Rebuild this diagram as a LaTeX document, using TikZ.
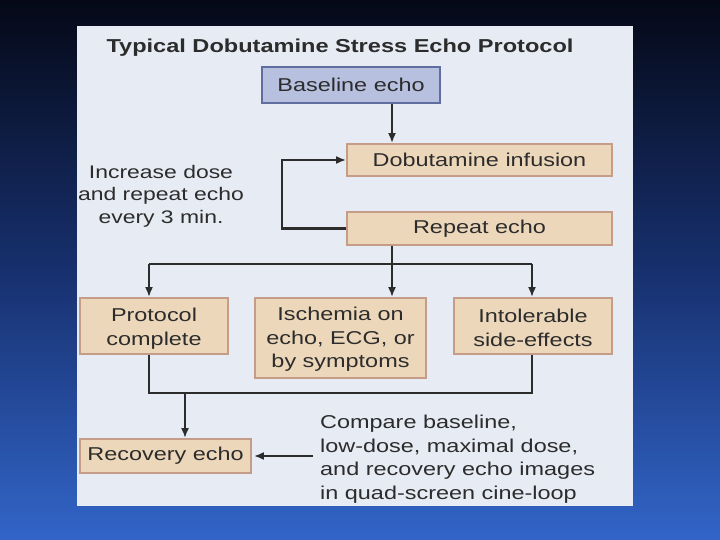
\documentclass[tikz,border=0pt]{standalone}
\usepackage{fontspec}
\setmainfont{Liberation Sans}[FakeStretch=1.26]
\usetikzlibrary{arrows.meta}
\definecolor{bgtop}{HTML}{050917}
\definecolor{bgmid}{HTML}{17306E}
\definecolor{bgbot}{HTML}{3265C8}
\definecolor{panel}{HTML}{E7EBF3}
\definecolor{tanfill}{HTML}{EDD7BA}
\definecolor{tanline}{HTML}{C59C88}
\definecolor{bluefill}{HTML}{B7C0DE}
\definecolor{blueline}{HTML}{5F6E9E}
\definecolor{ink}{HTML}{2C2C2C}
\tikzset{
  txt/.style={font=\fontsize{18.6}{23.5}\selectfont, text=ink, align=center, inner sep=0pt},
  tanbox/.style={txt, draw=tanline, fill=tanfill, line width=1.8pt},
  bluebox/.style={txt, draw=blueline, fill=bluefill, line width=1.8pt},
  conn/.style={draw=ink, line width=2.1pt},
  arr/.style={conn, -{Latex[length=10pt,width=8pt]}}
}
\begin{document}
\begin{tikzpicture}[x=1pt,y=-1pt]
  \useasboundingbox (0,0) rectangle (720,540);
  \shade[top color=bgtop, bottom color=bgbot, middle color=bgmid] (0,0) rectangle (720,540);
  \fill[panel] (77,26) rectangle (633,506);

  \node[txt, font=\fontsize{18.7}{23}\selectfont\bfseries, anchor=base] (title) at (340,53) {Typical Dobutamine Stress Echo Protocol};

  \node[bluebox, minimum width=178pt, minimum height=36pt] (base) at (351,85) {Baseline echo};
  \node[tanbox, minimum width=265pt, minimum height=32pt] (dob) at (479.5,160) {Dobutamine infusion};
  \node[tanbox, minimum width=265pt, minimum height=33pt] (rep) at (479.5,228.5) {Repeat echo};
  \node[tanbox, minimum width=148pt, minimum height=56pt] (prot) at (154,326) {};
  \node[tanbox, minimum width=171pt, minimum height=80pt] (isch) at (340.5,338) {};
  \node[tanbox, minimum width=158pt, minimum height=56pt] (intol) at (533,326) {};
  \node[tanbox, minimum width=171pt, minimum height=34pt] (rec) at (165.5,456) {Recovery echo};

  \node[txt] (protT) at ([yshift=-2.5pt]prot.center) {Protocol\\complete};
  \node[txt] (ischT) at ([yshift=-1.5pt]isch.center) {Ischemia on\\echo, ECG, or\\by symptoms};
  \node[txt] (intolT) at ([yshift=-2pt]intol.center) {Intolerable\\side-effects};

  \node[txt, font=\fontsize{18.2}{22.7}\selectfont] (inc) at (161,196) {Increase dose\\and repeat echo\\every 3 min.};
  \node[txt, align=left, anchor=west] (cmp) at (320,459) {Compare baseline,\\low-dose, maximal dose,\\and recovery echo images\\in quad-screen cine-loop};

  \coordinate (cx) at (392,0);
  \coordinate (lx) at (149,0);
  \coordinate (rx) at (532,0);
  \coordinate (top) at (0,264);
  \coordinate (bot) at (0,393);
  \coordinate (rx2) at (185,0);

  \draw[arr] (base.south -| cx) -- (dob.north -| cx);
  \draw[arr] (rep.west) -- ++(-64,0) |- (dob.west);
  \draw[conn] (rep.south -| cx) -- (top -| cx);
  \draw[conn] (top -| lx) -- (top -| rx);
  \draw[arr] (top -| lx) -- (prot.north -| lx);
  \draw[arr] (top -| cx) -- (isch.north -| cx);
  \draw[arr] (top -| rx) -- (intol.north -| rx);
  \draw[conn] (prot.south -| lx) -- (bot -| lx) -- (bot -| rx) -- (intol.south -| rx);
  \draw[arr] (bot -| rx2) -- (rec.north -| rx2);
  \draw[arr] ([xshift=-7pt]cmp.west |- rec.east) -- ([xshift=2pt]rec.east);
\end{tikzpicture}
\end{document}
